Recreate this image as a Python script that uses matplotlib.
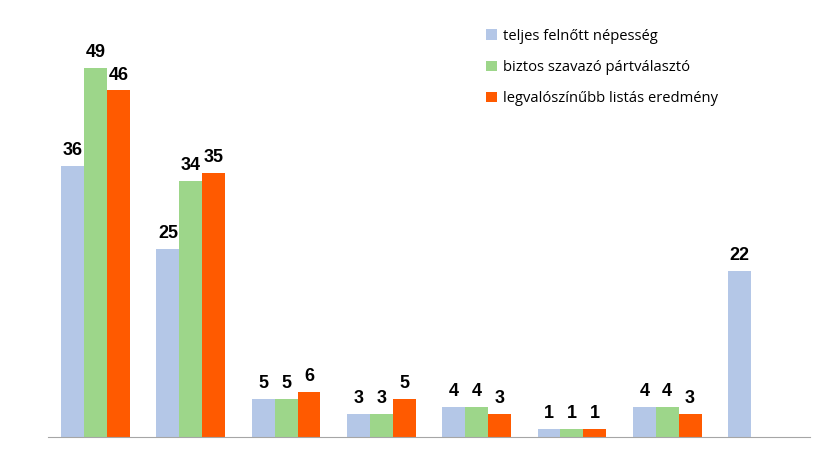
import numpy as np
import matplotlib.pyplot as plt

series_names = ['teljes felnőtt népesség', 'biztos szavazó pártválasztó', 'legvalószínűbb listás eredmény']
teljes = [36, 25, 5, 3, 4, 1, 4, 22]
biztos = [49, 34, 5, 3, 4, 1, 4, None]
lista = [46, 35, 6, 5, 3, 1, 3, None]
colors = ['#B4C7E7', '#9DD68A', '#FF5A00']

plt.rcParams['font.family'] = ['Liberation Sans', 'DejaVu Sans']

fig = plt.figure(figsize=(8.25, 4.5), dpi=100)
ax = fig.add_axes([0.058, 0.029, 0.924, 0.949])

x = np.arange(len(teljes))
w = 0.24
for i, (vals, c, name) in enumerate(zip([teljes, biztos, lista], colors, series_names)):
    xs = [xx + (i - 1) * w for xx, v in zip(x, vals) if v is not None]
    hs = [v for v in vals if v is not None]
    bars = ax.bar(xs, hs, width=w, color=c, label=name)
    for b, v in zip(bars, hs):
        ax.annotate(str(v), (b.get_x() + b.get_width() / 2, b.get_height()),
                    xytext=(0, 5), textcoords='offset points', ha='center', va='bottom',
                    fontsize=13, fontweight='bold', color='black')

ax.set_xlim(-0.5, len(teljes) - 0.5)
ax.set_ylim(0, 56.7)
for s in ['top', 'right', 'left']:
    ax.spines[s].set_visible(False)
ax.spines['bottom'].set_color('#A6A6A6')
ax.set_xticks([])
ax.set_yticks([])

ax.legend(loc='upper left', bbox_to_anchor=(0.558, 0.987), frameon=False,
          prop={'family': ['Open Sans', 'DejaVu Sans'], 'size': 10.6},
          handlelength=0.7, handleheight=0.7, handletextpad=0.4, labelspacing=1.1)

fig.savefig('out.png', dpi=100)
